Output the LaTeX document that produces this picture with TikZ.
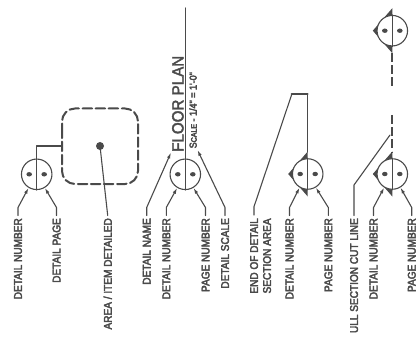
\documentclass[tikz,border=0pt]{standalone}
\usepackage{fontspec}
\setmainfont{Liberation Sans}
\newfontfamily\lblf[FakeStretch=0.9]{Liberation Sans}
\newfontfamily\titlef[FakeStretch=0.93]{Liberation Sans}
\usetikzlibrary{arrows.meta}
\definecolor{ink}{HTML}{4A4A4A}
\newcommand{\heavyon}{\special{pdf:code q 2 Tr 0.4 w}}
\newcommand{\heavyoff}{\special{pdf:code Q}}
\tikzset{
  x=1pt,y=-1pt,
  sym/.style={circle,draw=ink,line width=1.1pt,fill=white,minimum size=30.5pt,inner sep=0pt},
  lbl/.style={rotate=90,anchor=east,inner sep=2.5pt,text=ink,font=\lblf\fontsize{11.2}{12}\selectfont,text depth=0pt,
    execute at begin node=\heavyon,execute at end node=\heavyoff},
  ln/.style={draw=ink,line width=1.1pt,line cap=round,line join=round},
  lead/.style={ln,-{Latex[length=6pt,width=3.5pt]}},
  hv/.style={ln,line cap=butt,line width=2pt,dash pattern=on 9pt off 3.2pt},
  dots/.style={fill=ink}
}
\newcommand{\symdots}[1]{\draw[ln] (#1.north)--(#1.south);
  \fill[dots] (#1.center)++(-7.5,0) ellipse (2.8 and 2.2);
  \fill[dots] (#1.center)++(7.5,0) ellipse (2.8 and 2.2);}
\newcommand{\secmark}[1]{\fill[ink] (#1)++(0,-22.5)--++(-19.5,22.5)--++(19.5,22.5)--cycle;}
\begin{document}
\begin{tikzpicture}
\useasboundingbox (0,0) rectangle (417,339);
\clip (0,0) rectangle (417,339);
% group 1
\node[sym] (c1) at (36.7,174.3) {};
\symdots{c1}
\node[lbl] (l1) at (18,215.5) {DETAIL NUMBER};
\node[lbl] (l2) at (56.5,215.5) {DETAIL PAGE};
\draw[lead] (l1.east)--++(0,-8)--(c1.239);
\draw[lead] (l2.east)--++(0,-8)--(c1.301);
\draw[ln,dash pattern=on 9.5pt off 3.6pt,line width=2pt,rounded corners=13pt] (62,146) -- (62,108.5) -- (138,108.5) -- (138,184) -- (62,184) -- cycle;
\node[circle,fill=ink,minimum size=8pt,inner sep=0pt] (d1) at (100,146) {};
\coordinate (k1) at (62,146);
\draw[ln] (c1.north)--(36.7,146)--(k1);
\node[lbl] (l3) at (107.7,215.5) {AREA / ITEM DETAILED};
\draw[ln] (l3.east)--(d1.center);
% group 2
\coordinate (tt) at (185.3,8);
\node[sym] (c2) at (185.3,174.3) {};
\draw[ln] (tt)--(c2.north);
\symdots{c2}
\node[rotate=90,anchor=base west,inner sep=0pt,text=ink,font=\titlef\fontsize{16.3}{18}\selectfont,execute at begin node=\heavyon,execute at end node=\heavyoff] (fp) at (183.5,152) {FLOOR PLAN};
\node[rotate=90,anchor=west,inner sep=0pt,text=ink,font=\lblf\fontsize{10}{11}\selectfont,execute at begin node=\heavyon,execute at end node=\heavyoff] (sc) at (193,148.5) {S{\fontsize{7.8}{9}\selectfont CALE} - 1/4" = 1'-0"};
\node[lbl] (l4) at (146.7,215.5) {DETAIL NAME};
\node[lbl] (l5) at (166.3,215.5) {DETAIL NUMBER};
\node[lbl] (l6) at (205.5,215.5) {PAGE NUMBER};
\node[lbl] (l7) at (225,215.5) {DETAIL SCALE};
\coordinate (p4) at (171,152.5);
\coordinate (p7) at (197.5,150);
\draw[lead] (l4.east)--++(0,-8)--(p4);
\draw[lead] (l5.east)--++(0,-8)--(c2.239);
\draw[lead] (l6.east)--++(0,-8)--(c2.301);
\draw[lead] (l7.east)--++(0,-8)--(p7);
% group 3
\coordinate (m3) at (307.7,174);
\secmark{m3}
\node[sym] (c3) at (m3) {};
\symdots{c3}
\node[lbl,align=center,font=\lblf\fontsize{11.2}{13}\selectfont] (l8) at (260.5,215.5) {END OF DETAIL\\SECTION AREA};
\coordinate (e1) at (254,215);
\coordinate (e2) at (291.7,94.5);
\coordinate (e3) at (307.7,94.5);
\draw[ln] (e1)--(254,206.7)--(e2);
\draw[ln,line width=2pt] (e2)--(e3);
\draw[ln] (e3)--(m3|-0,152);
\node[lbl] (l9) at (289.5,215.5) {DETAIL NUMBER};
\node[lbl] (l10) at (328.3,215.5) {PAGE NUMBER};
\draw[lead] (l9.east)--++(0,-8)--(c3.239);
\draw[lead] (l10.east)--++(0,-8)--(c3.301);
% group 4
\coordinate (m4) at (392.3,30.7);
\coordinate (m5) at (392.3,174);
\secmark{m4}
\node[sym] (c4) at (m4) {};
\symdots{c4}
\secmark{m5}
\node[sym] (c5) at (m5) {};
\symdots{c5}
\coordinate (h1) at (392.3,53);
\coordinate (h2) at (392.3,89);
\coordinate (h3) at (392.3,115);
\coordinate (h4) at (392.3,152);
\draw[hv] (h1)--(h2);
\draw[hv] (h3)--(h4);
\coordinate (f1) at (390,135);
\node[lbl] (l11) at (354,215.5) {ULL SECTION CUT LINE};
\draw[ln] (l11.east)--(354,185)--(f1);
\node[lbl] (l12) at (373.5,215.5) {DETAIL NUMBER};
\node[lbl] (l13) at (411.7,215.5) {PAGE NUMBER};
\draw[lead] (l12.east)--++(0,-8)--(c5.239);
\draw[lead] (l13.east)--++(0,-8)--(c5.301);
\end{tikzpicture}
\end{document}
